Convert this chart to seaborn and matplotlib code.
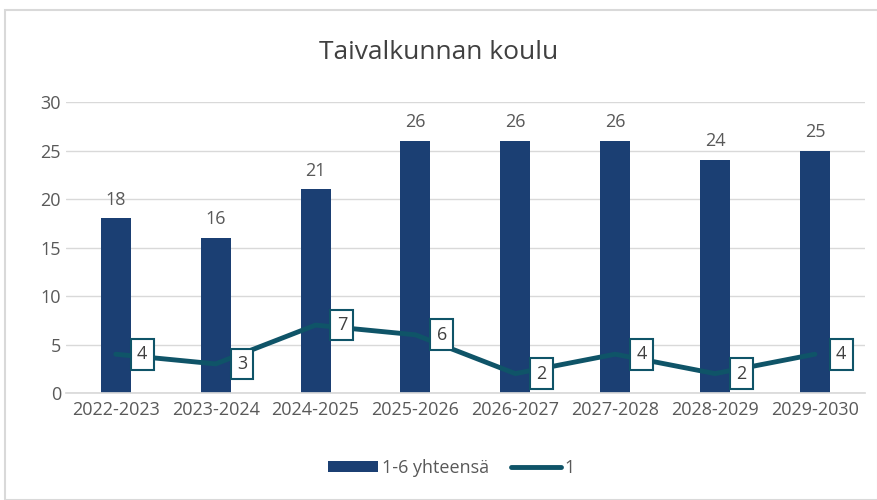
import matplotlib
matplotlib.use("Agg")
import matplotlib.pyplot as plt
import seaborn as sns
import pandas as pd
from matplotlib.patches import Rectangle, Patch
from matplotlib.lines import Line2D

categories = ["2022-2023", "2023-2024", "2024-2025", "2025-2026",
              "2026-2027", "2027-2028", "2028-2029", "2029-2030"]
total_values = [18, 16, 21, 26, 26, 26, 24, 25]
grade1_values = [4, 3, 7, 6, 2, 4, 2, 4]
yticks = [0, 5, 10, 15, 20, 25, 30]
series_names = ["1-6 yhteensä", "1"]

bar_color = "#1B3F73"
line_color = "#0F5468"
text_color = "#595959"

sns.set_theme(style="white")
plt.rcParams['font.family'] = ['Open Sans', 'DejaVu Sans']

df = pd.DataFrame({"cat": categories, "total": total_values, "g1": grade1_values})

fig = plt.figure(figsize=(8.78, 5.0), dpi=100)
ax = fig.add_axes([0.075, 0.214, 0.910, 0.582])

sns.barplot(data=df, x="cat", y="total", color=bar_color, width=0.3,
            saturation=1, ax=ax, linewidth=0, zorder=2)
sns.lineplot(x=range(len(categories)), y=grade1_values, color=line_color,
             linewidth=3.5, ax=ax, zorder=3, legend=False)

for i, v in enumerate(total_values):
    ax.annotate(str(v), (i, v), xytext=(0, 7), textcoords="offset points",
                ha="center", va="bottom", fontsize=13, color=text_color)
for i, v in enumerate(grade1_values):
    ax.annotate(str(v), (i, v), xytext=(19, 0), textcoords="offset points",
                ha="center", va="center", fontsize=13, color="#404040",
                bbox=dict(boxstyle="square,pad=0.35", fc="white", ec=line_color, lw=1.5),
                zorder=5)

ax.set_ylim(0, 30)
ax.set_yticks(yticks)
ax.set_xlim(-0.5, len(categories) - 0.5)
ax.yaxis.grid(True, color="#D9D9D9", linewidth=1)
ax.set_axisbelow(True)
for s in ["top", "right", "left"]:
    ax.spines[s].set_visible(False)
ax.spines["bottom"].set_color("#D9D9D9")
ax.tick_params(axis="both", colors=text_color, labelsize=13, length=0)
ax.tick_params(axis="x", pad=6)
ax.set_xlabel("")
ax.set_ylabel("")

fig.text(0.5, 0.895, "Taivalkunnan koulu", ha="center", va="center",
         fontsize=19, color="#404040")

handles = [Patch(facecolor=bar_color, edgecolor="none"),
           Line2D([0], [0], color=line_color, linewidth=3.5, solid_capstyle="round")]
leg = fig.legend(handles, series_names, loc="center", bbox_to_anchor=(0.514, 0.064),
                 ncol=2, frameon=False, fontsize=13, labelcolor=text_color,
                 handlelength=2.8, handleheight=0.5, handletextpad=0.2,
                 columnspacing=1.2)

fig.patches.append(Rectangle((5 / 878, 0.0), 1 - 5 / 878, 1 - 10 / 500,
                             transform=fig.transFigure, fill=False,
                             ec="#D9D9D9", lw=1.5, zorder=0))

fig.savefig("out.png", dpi=100, facecolor="white")
